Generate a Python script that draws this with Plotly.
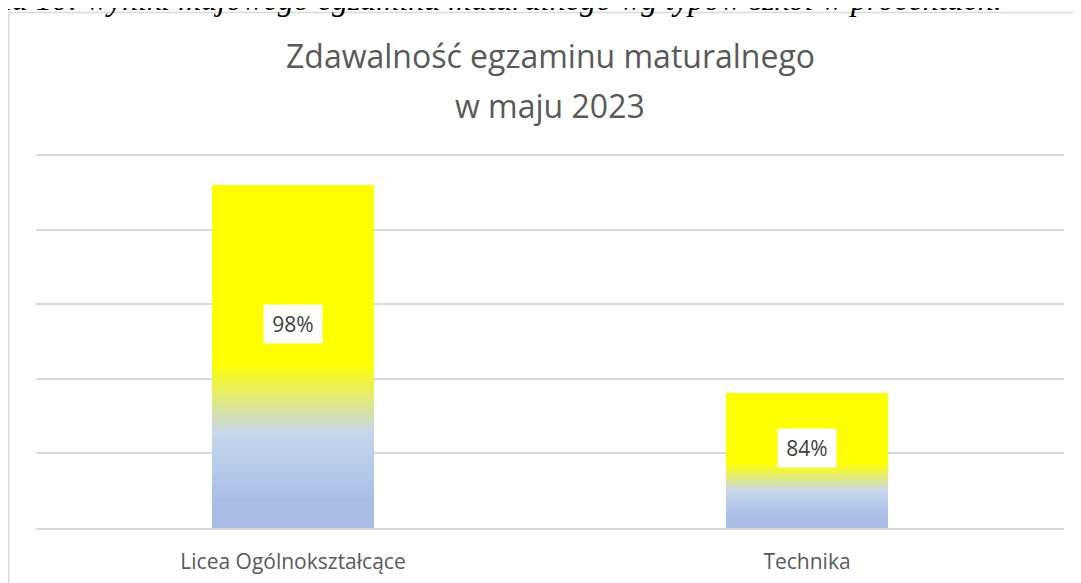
import plotly.graph_objects as go

# ---- data ----
categories = ["Licea Ogólnokształcące", "Technika"]
values = [98, 84]
value_labels = ["98%", "84%"]
title_lines = ["Zdawalność egzaminu maturalnego", "w maju 2023"]
caption = "Tabela 10: wyniki majowego egzaminu maturalnego wg typów szkół w procentach."
y_min, y_max, y_step = 75, 100, 5

# ---- style ----
OFF = 8  # page body margin
W, H = 1081 - OFF, 583 - OFF
Y_PAD = 0.2  # extra range so the top gridline is drawn
PX_PER_UNIT = 373 / (y_max - y_min)
ML, MR, MB = 28, 17, 55
MT = 147 - round(Y_PAD * PX_PER_UNIT)
PH = H - MT - MB
PW = W - ML - MR
FONT = "Open Sans"
grad_stops = [
    (0.00, (170, 190, 229)),
    (0.08, (170, 190, 229)),
    (0.27, (198, 213, 238)),
    (0.48, (255, 255, 0)),
    (1.00, (255, 255, 0)),
]
N_SEG = 120
LABEL_FRAC = 0.595


def color_at(f):
    for (f0, c0), (f1, c1) in zip(grad_stops[:-1], grad_stops[1:]):
        if f0 <= f <= f1:
            t = 0 if f1 == f0 else (f - f0) / (f1 - f0)
            r, g, b = (round(a + (bb - a) * t) for a, bb in zip(c0, c1))
            return f"rgb({r},{g},{b})"
    r, g, b = grad_stops[-1][1]
    return f"rgb({r},{g},{b})"


xs, bases, lens, cols = [], [], [], []
for cat, v in zip(categories, values):
    span = v - y_min
    for i in range(N_SEG):
        f = i / N_SEG
        xs.append(cat)
        bases.append(y_min + f * span)
        lens.append((1 - f) * span)
        cols.append(color_at(f))

fig = go.Figure()
fig.add_trace(go.Bar(
    x=xs, y=lens, base=bases, width=0.315,
    marker=dict(color=cols, line=dict(width=0)),
    hoverinfo="skip", showlegend=False,
))


def py(px):
    # page pixel -> paper y
    return 1 + (MT - (px - OFF)) / PH


def pxx(px):
    # page pixel -> paper x
    return (px - OFF - ML) / PW


annotations = []
for cat, v, lab in zip(categories, values, value_labels):
    annotations.append(dict(
        x=cat, y=y_min + LABEL_FRAC * (v - y_min), xref="x", yref="y",
        text=lab, showarrow=False, bgcolor="white", width=56, height=36,
        borderpad=1, font=dict(family=FONT, size=21, color="#404040"),
        xanchor="center", yanchor="middle",
    ))

annotations.append(dict(
    x=0.5, y=py(55), xref="paper", yref="paper", text=title_lines[0],
    showarrow=False, font=dict(family=FONT, size=32, color="#595959"),
    xanchor="center", yanchor="middle",
))
annotations.append(dict(
    x=0.5, y=py(105), xref="paper", yref="paper", text=title_lines[1],
    showarrow=False, font=dict(family=FONT, size=32, color="#595959"),
    xanchor="center", yanchor="middle",
))
annotations.append(dict(
    x=pxx(1004), y=py(-1), xref="paper", yref="paper", text="<i>" + caption + "</i>",
    showarrow=False, font=dict(family="Liberation Serif", size=32, color="#000000"),
    xanchor="right", yanchor="middle",
))

fig.update_layout(
    width=W, height=H,
    margin=dict(l=ML, r=MR, t=MT, b=MB, autoexpand=False),
    paper_bgcolor="white", plot_bgcolor="white",
    barmode="overlay", bargap=0,
    annotations=annotations,
    shapes=[dict(
        type="rect", xref="paper", yref="paper",
        x0=pxx(OFF + 0.75), x1=pxx(1081 + 20), y0=py(583 + 20), y1=py(12.5),
        line=dict(color="#D9D9D9", width=1.5), fillcolor="rgba(0,0,0,0)",
        layer="below",
    )],
    xaxis=dict(
        type="category", range=[-0.5, 1.5], categoryorder="array",
        categoryarray=categories,
        showgrid=False, showline=True, linecolor="#D9D9D9", linewidth=1.5,
        ticks="", ticklabelstandoff=14,
        tickfont=dict(family=FONT, size=21, color="#595959"),
    ),
    yaxis=dict(
        range=[y_min, y_max + Y_PAD], dtick=y_step, tick0=y_min,
        showgrid=True, gridcolor="#D9D9D9", gridwidth=1.5,
        showticklabels=False, zeroline=False, showline=False, ticks="",
    ),
)

fig.write_html("out.html")
